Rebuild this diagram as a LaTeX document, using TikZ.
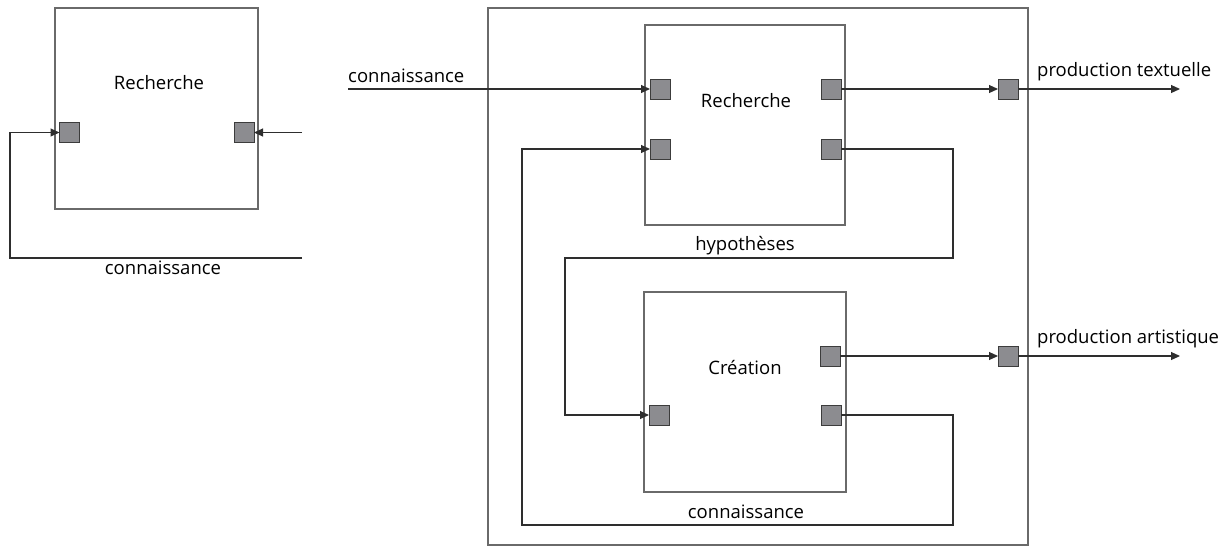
\documentclass[tikz,border=0pt]{standalone}
\usepackage{fontspec}
\setmainfont{Open Sans}
\usetikzlibrary{arrows.meta}
\definecolor{boxgray}{HTML}{6A6A6A}
\definecolor{wirecol}{HTML}{2E2E2E}
\definecolor{portfill}{HTML}{8C8C90}
\definecolor{portedge}{HTML}{3C3C3C}
\begin{document}
\begin{tikzpicture}[x=1pt,y=-1pt,
  blk/.style={draw=boxgray, line width=1.3pt, inner sep=0pt, outer sep=0pt, anchor=north west},
  port/.style={draw=portedge, fill=portfill, line width=1pt, minimum size=20pt, inner sep=0pt, outer sep=0pt},
  wire/.style={draw=wirecol, line width=1.1pt},
  arr/.style={wire, -{Triangle[length=9pt,width=8pt]}},
  lbl/.style={font=\fontsize{18.5}{21}\selectfont, text=black, inner sep=0pt}]
\useasboundingbox (0,0) rectangle (1228,547);

% ---------- left diagram ----------
\node[blk, minimum width=203pt, minimum height=201pt] (LB) at (55,8) {};
\node[lbl] (LBt) at (159,83) {Recherche};
\node[port] (Lin) at (69.5,132.5) {};
\node[port] (Lout) at (244,132.5) {};
\coordinate (a1) at (302,258);
\coordinate (a2) at (10,258);
\coordinate (a3) at (10,132.5);
\coordinate (b1) at (302,132.5);
\draw[arr] (a1) -- (a2) -- (a3) -- (Lin.west);
\draw[arr] (b1) -- (Lout.east);
\node[lbl] (La) at (163,268) {connaissance};

% ---------- right diagram ----------
\node[blk, minimum width=540pt, minimum height=537pt] (OB) at (488,8) {};
\node[blk, minimum width=200pt, minimum height=200pt] (RB) at (645,25) {};
\node[blk, minimum width=202pt, minimum height=200pt] (CB) at (644,292) {};
\node[lbl] (RBt) at (746,101) {Recherche};
\node[lbl] (CBt) at (745,367) {Création};

\node[port] (Rin1) at (660,89) {};
\node[port] (Rin2) at (660,149) {};
\node[port] (Rout1) at (831,89) {};
\node[port] (Rout2) at (831,149) {};
\node[port] (Cout1) at (830,356) {};
\node[port] (Cin) at (659,415) {};
\node[port] (Cout2) at (831,415) {};
\node[port] (O1) at (1008,89) {};
\node[port] (O2) at (1008,356) {};

\coordinate (c1) at (348,89);
\draw[arr] (c1) -- (Rin1.west);
\node[lbl, anchor=west] (Lc) at (348,76) {connaissance};

\coordinate (h2) at (953,258);
\coordinate (h3) at (565,258);
\draw[arr] (Rout2.east) -| (h2) -- (h3) |- (Cin.west);
\node[lbl] (Lh) at (745,246) {hypothèses};

\coordinate (k2) at (953,525);
\coordinate (k3) at (522,525);
\draw[arr] (Cout2.east) -| (k2) -- (k3) |- (Rin2.west);
\node[lbl] (Lk) at (746,512) {connaissance};

\coordinate (t1) at (1180,89);
\coordinate (t2) at (1180,356);
\draw[arr] (Rout1.east) -- (O1.west);
\draw[arr] (O1.east) -- (t1);
\draw[arr] (Cout1.east) -- (O2.west);
\draw[arr] (O2.east) -- (t2);
\node[lbl, anchor=west] (Lt) at (1037,72) {production textuelle};
\node[lbl, anchor=west] (Lar) at (1037,339) {production artistique};
\end{tikzpicture}
\end{document}
